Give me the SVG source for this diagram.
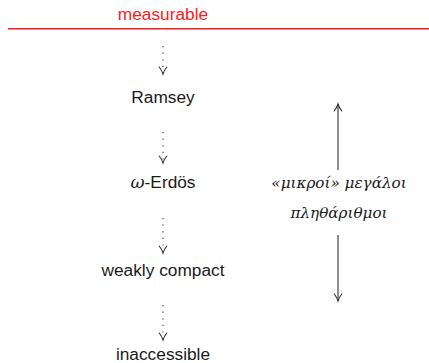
<svg xmlns="http://www.w3.org/2000/svg" width="429" height="363" viewBox="0 0 429 363">
  <style>
    .lbl { font-family: "Liberation Sans", "DejaVu Sans", sans-serif; font-size: 17.3px; fill: #1a1a1a; text-anchor: middle; }
    .top { fill: #ff1a1a; }
    .greek { font-family: "DejaVu Serif", "Liberation Serif", serif; font-style: italic; font-size: 15.2px; fill: #1a1a1a; text-anchor: middle; }
    .dotted { stroke: #333; stroke-width: 1.1; fill: none; stroke-dasharray: 1.2 5.4; }
    .solid { stroke: #333; stroke-width: 1.1; fill: none; }
  </style>
  <defs>
    <marker id="tip" markerUnits="userSpaceOnUse" markerWidth="12" markerHeight="12" viewBox="-8 -6 10 12" refX="0" refY="0" orient="auto">
      <path d="M-7,-3.8 C-4.5,-1.8 -1.4,-0.4 0,0 C-1.4,0.4 -4.5,1.8 -7,3.8" fill="none" stroke="#333" stroke-width="1.1" stroke-linecap="round"/>
    </marker>
  </defs>

  <!-- upper bound -->
  <g id="measurable">
    <text class="lbl top" x="163" y="20">measurable</text>
    <line x1="8" y1="28.7" x2="429" y2="28.7" stroke="#ff1a1a" stroke-width="1.4"/>
  </g>

  <g id="ramsey"><text class="lbl" x="163" y="103">Ramsey</text></g>
  <g id="erdos"><text class="lbl" x="163" y="188"><tspan font-family="'DejaVu Serif', serif" font-style="italic">ω</tspan>-Erdös</text></g>
  <g id="weakly-compact"><text class="lbl" x="163" y="276">weakly compact</text></g>
  <g id="inaccessible"><text class="lbl" x="163" y="360">inaccessible</text></g>

  <g id="side-label">
    <text class="greek" x="339" y="188">«μικροί» μεγάλοι</text>
    <text class="greek" x="339" y="218">πληθάριθμοι</text>
  </g>

  <!-- implications and the size scale -->
  <g id="connectors">
    <path class="dotted" d="M163,46 L163,74" marker-end="url(#tip)"/>
    <path class="dotted" d="M163,132 L163,163" marker-end="url(#tip)"/>
    <path class="dotted" d="M163,218 L163,253" marker-end="url(#tip)"/>
    <path class="dotted" d="M163,305 L163,340" marker-end="url(#tip)"/>
    <path class="solid" d="M338,170 L338,104" marker-end="url(#tip)"/>
    <path class="solid" d="M338,235 L338,301" marker-end="url(#tip)"/>
  </g>
</svg>
